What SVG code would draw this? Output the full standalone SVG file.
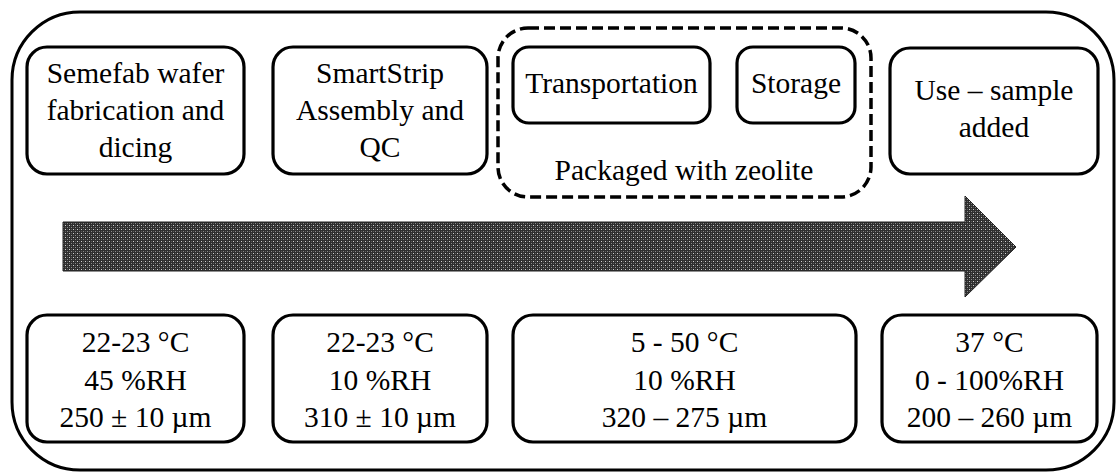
<svg xmlns="http://www.w3.org/2000/svg" width="1117" height="473" viewBox="0 0 1117 473">
<style>
.box{fill:#fff;stroke:#000;stroke-width:3.2}
.outer{fill:#fff;stroke:#000;stroke-width:3}
.dash{fill:none;stroke:#000;stroke-width:3.5;stroke-dasharray:11 5}
text{font-family:"Liberation Serif","Times New Roman",serif;font-size:29.5px;fill:#000;text-anchor:middle}
</style>
<defs>
<pattern id="dots" width="4" height="4" patternUnits="userSpaceOnUse">
<rect width="4" height="4" fill="#2e2e2e"/>
<rect x="1" y="1" width="1" height="1" fill="#d0d0d0"/>
<rect x="3" y="3" width="1" height="1" fill="#8a8a8a"/>
<rect x="3" y="1" width="1" height="1" fill="#5a5a5a"/>
<rect x="1" y="3" width="1" height="1" fill="#5a5a5a"/>
</pattern>
</defs>
<rect class="outer" x="12" y="12" width="1102" height="458" rx="68" ry="68"/>
<g id="arrow">
<path d="M63,222 L965,222 L965,196 L1016,247 L965,297 L965,271 L63,271 Z" fill="url(#dots)" stroke="#222" stroke-width="1"/>
</g>
<g id="fab">
<rect class="box" x="27" y="47" width="217" height="127" rx="20"/>
<text x="135.5" y="83">Semefab wafer</text>
<text x="135.5" y="120">fabrication and</text>
<text x="135.5" y="157">dicing</text>
</g>
<g id="assembly">
<rect class="box" x="273" y="47" width="214" height="127" rx="20"/>
<text x="380" y="83">SmartStrip</text>
<text x="380" y="120">Assembly and</text>
<text x="380" y="157">QC</text>
</g>
<g id="packaged">
<rect class="dash" x="498" y="28" width="373" height="169" rx="30"/>
<text x="684" y="180">Packaged with zeolite</text>
</g>
<g id="transport">
<rect class="box" x="513" y="47" width="197" height="76" rx="16"/>
<text x="611.5" y="93">Transportation</text>
</g>
<g id="storage">
<rect class="box" x="737" y="47" width="118" height="76" rx="16"/>
<text x="796" y="93">Storage</text>
</g>
<g id="use">
<rect class="box" x="890" y="48" width="208" height="126" rx="20"/>
<text x="994" y="100">Use – sample</text>
<text x="994" y="137">added</text>
</g>
<g id="cond1">
<rect class="box" x="27" y="315" width="217" height="127" rx="20"/>
<text x="135.5" y="352">22-23 °C</text>
<text x="135.5" y="390">45 %RH</text>
<text x="135.5" y="427">250 ± 10 µm</text>
</g>
<g id="cond2">
<rect class="box" x="273" y="315" width="214" height="127" rx="20"/>
<text x="380" y="352">22-23 °C</text>
<text x="380" y="390">10 %RH</text>
<text x="380" y="427">310 ± 10 µm</text>
</g>
<g id="cond3">
<rect class="box" x="513" y="315" width="343" height="127" rx="20"/>
<text x="684.5" y="352">5 - 50 °C</text>
<text x="684.5" y="390">10 %RH</text>
<text x="684.5" y="427">320 – 275 µm</text>
</g>
<g id="cond4">
<rect class="box" x="882" y="315" width="215" height="127" rx="20"/>
<text x="989.5" y="352">37 °C</text>
<text x="989.5" y="390">0 - 100%RH</text>
<text x="989.5" y="427">200 – 260 µm</text>
</g>
<g id="connectors"/>
</svg>
